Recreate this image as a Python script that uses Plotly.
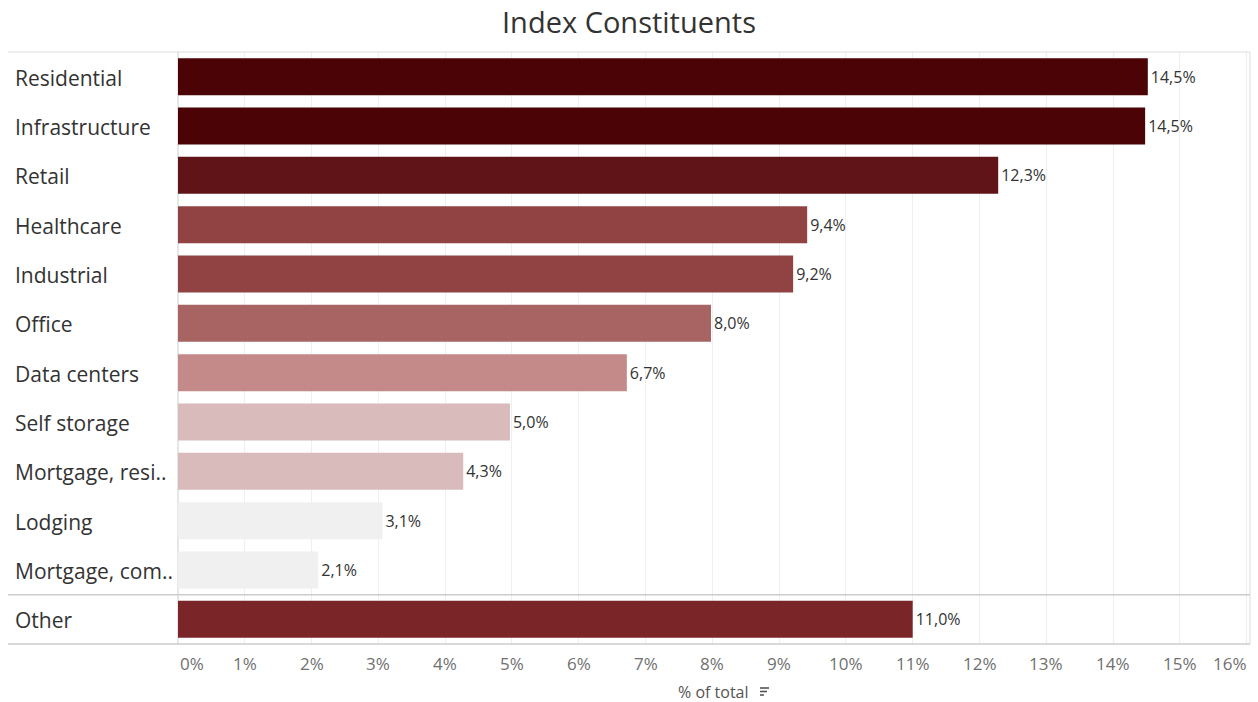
import plotly.graph_objects as go

categories = ["Residential", "Infrastructure", "Retail", "Healthcare", "Industrial", "Office",
              "Data centers", "Self storage", "Mortgage, resi..", "Lodging", "Mortgage, com..", "Other"]
values = [14.52, 14.48, 12.28, 9.42, 9.21, 7.98, 6.72, 4.97, 4.27, 3.06, 2.10, 11.0]
colors = ["#4B0306", "#4B0306", "#601418", "#914243", "#914243", "#A86462",
          "#C38A89", "#D9BBBB", "#D9BBBB", "#F0F0F0", "#F0F0F0", "#7A2528"]
tick_vals = list(range(0, 17))
tick_text = [f"{v}%" for v in tick_vals]

FONT = "Open Sans"
W, H = 1258, 702
L, R, T, B = 178, 8, 52, 58
pw = W - L - R
ph = H - T - B
XMAX = 16.05

fig = go.Figure()
fig.add_trace(go.Bar(
    x=values, y=categories, orientation="h",
    marker=dict(color=colors, line=dict(width=0)),
    width=0.75,
    text=values, texttemplate="%{x:.1f}%", textposition="outside",
    textfont=dict(family=FONT, size=16, color="#333333"),
    cliponaxis=False, hoverinfo="skip",
))

fig.update_layout(
    width=W, height=H,
    margin=dict(l=L, r=R, t=T, b=B),
    paper_bgcolor="white", plot_bgcolor="white",
    separators=",.",
    showlegend=False,
    title=dict(text="Index Constituents", x=0.5, xanchor="center", y=0.968, yanchor="middle",
               font=dict(family=FONT, size=29, color="#333333")),
    xaxis=dict(range=[0, XMAX], tickvals=tick_vals, ticktext=tick_text,
               showgrid=True, gridcolor="#EFEFEF", gridwidth=1,
               zeroline=True, zerolinecolor="#E6E6E6",
               showticklabels=False, ticks="",
               fixedrange=True),
    yaxis=dict(categoryorder="array", categoryarray=categories, autorange="reversed",
               showticklabels=False, showgrid=False, zeroline=False, fixedrange=True),
)

# tick labels (Tableau style: first left-aligned, last right-aligned)
for i, (v, t) in enumerate(zip(tick_vals, tick_text)):
    anchor = "left" if i == 0 else ("right" if i == len(tick_vals) - 1 else "center")
    xs = 0 if i == 0 else (2 if i == len(tick_vals) - 1 else 0)
    fig.add_annotation(x=v, xref="x", y=0, yref="paper", yshift=-19, xshift=xs,
                       text=t, showarrow=False, xanchor=anchor, yanchor="middle",
                       font=dict(family=FONT, size=17, color="#707070"))

# axis title
fig.add_annotation(x=0.5, xref="paper", y=0, yref="paper", yshift=-48, xshift=-1,
                   text="% of total", showarrow=False, xanchor="center", yanchor="middle",
                   font=dict(family=FONT, size=16, color="#555555"))
# sort icon
ix = 0.5 + 46 / pw
for k, ln in enumerate([9, 7, 4]):
    yv = (-(688 - 644) - 3.5 * k) / ph
    fig.add_shape(type="line", xref="paper", yref="paper",
                  x0=ix, x1=ix + ln / pw, y0=yv, y1=yv,
                  line=dict(color="#555555", width=1.6))

x_left = (13 - L) / pw
x_frame = (8 - L) / pw
for c in categories:
    fig.add_annotation(x=x_left, xref="paper", y=c, yref="y", text=c, showarrow=False,
                       xanchor="left", yanchor="middle", yshift=-1,
                       font=dict(family=FONT, size=21, color="#333333"))

line_col = "#DDDDDD"
fig.add_shape(type="line", xref="paper", yref="paper", x0=x_frame, x1=1, y0=1, y1=1,
              line=dict(color=line_col, width=1))
fig.add_shape(type="line", xref="paper", yref="paper", x0=x_frame, x1=1, y0=0, y1=0,
              line=dict(color="#CCCCCC", width=1.5))
fig.add_shape(type="line", xref="paper", yref="paper", x0=1, x1=1, y0=0, y1=1,
              line=dict(color=line_col, width=1))
fig.add_shape(type="line", xref="paper", yref="y", x0=x_frame, x1=1,
              y0=len(categories) - 1.5, y1=len(categories) - 1.5,
              line=dict(color="#CCCCCC", width=1.5))

fig.write_html("out.html")
